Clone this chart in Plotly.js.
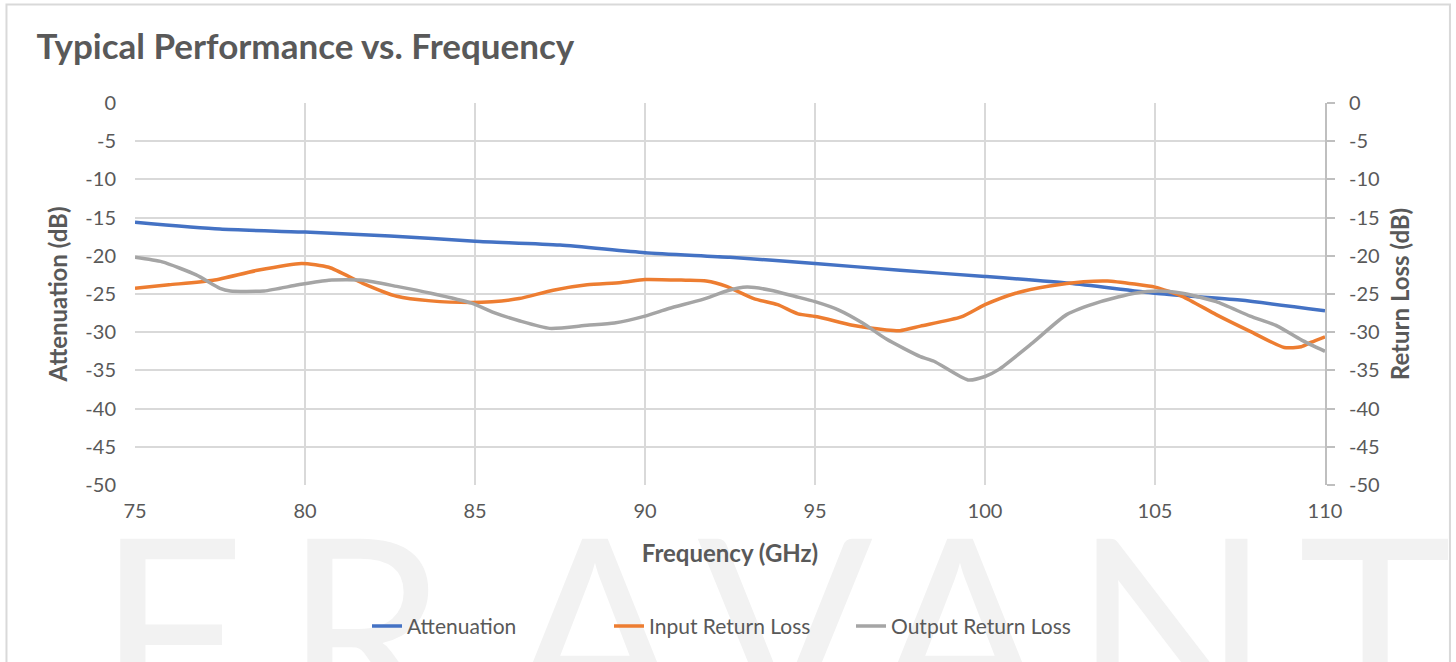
<!DOCTYPE html>
<html>
<head>
<meta charset="utf-8">
<script src="https://cdn.plot.ly/plotly-3.0.1.min.js"></script>
<style>html,body{margin:0;padding:0;background:#fff;}#chart{width:1456px;height:662px;}</style>
</head>
<body>
<div id="chart"></div>
<script>
// ---- data ----
const attFreq = [75, 77.5, 80, 82.5, 85, 87.5, 90, 92.5, 95, 97.5, 100, 102.5, 105, 107.5, 110];
const attVals = [-15.6, -16.5, -16.9, -17.4, -18.1, -18.6, -19.6, -20.2, -21.0, -21.9, -22.7, -23.6, -24.9, -25.8, -27.2];

const inFreq = [75, 76, 77.3, 78.6, 79.9, 80.7, 81.7, 82.7, 83.7, 84.9, 85.5, 86.3, 87.3, 88.3, 89.3, 90, 91.2, 91.8, 92.4, 93.2, 93.9, 94.5, 95.1, 96.1, 97.1, 97.5, 98.1, 99.3, 100, 100.9, 101.9, 102.9, 103.6, 104.4, 105, 105.8, 106.8, 107.8, 108.8, 109.3, 109.6, 110];
const inVals = [-24.25, -23.8, -23.2, -21.9, -21.0, -21.5, -23.6, -25.3, -25.9, -26.1, -26.0, -25.6, -24.5, -23.8, -23.5, -23.1, -23.2, -23.3, -24.0, -25.6, -26.4, -27.6, -28.0, -29.1, -29.7, -29.8, -29.2, -28.0, -26.4, -24.9, -23.95, -23.4, -23.3, -23.7, -24.1, -25.3, -27.7, -29.9, -32.0, -31.9, -31.3, -30.6];

const outFreq = [75, 75.8, 76.8, 77.5, 77.8, 78.8, 79.8, 80.7, 81.7, 82.7, 83.7, 84.9, 85.6, 86.3, 87.2, 88.3, 89.1, 90, 90.7, 91.7, 92.4, 93, 93.7, 94.4, 95, 95.7, 96.4, 97.1, 98.1, 98.5, 99.5, 100, 100.4, 101.4, 102.4, 103.4, 104.4, 105.1, 105.8, 106.8, 107.8, 108.6, 109.3, 110];
const outVals = [-20.2, -20.8, -22.5, -24.25, -24.6, -24.6, -23.8, -23.2, -23.2, -24.0, -24.9, -26.2, -27.5, -28.5, -29.5, -29.1, -28.8, -27.9, -26.9, -25.7, -24.6, -24.1, -24.5, -25.3, -26.0, -27.1, -28.8, -30.9, -33.2, -33.8, -36.25, -35.8, -34.9, -31.4, -27.7, -26.0, -24.9, -24.6, -24.9, -26.0, -27.9, -29.2, -31.0, -32.5];

const seriesNames = ["Attenuation", "Input Return Loss", "Output Return Loss"];
const xTicks = [75, 80, 85, 90, 95, 100, 105, 110];
const yTicks = [0, -5, -10, -15, -20, -25, -30, -35, -40, -45, -50];
const watermark = ["F", "R", "A", "V", "A", "N", "T"];

// ---- styling ----
const FONT = "Lato, 'Open Sans', sans-serif";
const TXT = "#595959";
const colors = ["#4472C4", "#ED7D31", "#A5A5A5"];

const traces = [
  {x: attFreq, y: attVals, name: seriesNames[0], type: "scatter", mode: "lines", yaxis: "y",
   line: {color: colors[0], width: 3.5, shape: "spline", smoothing: 0.6}},
  {x: inFreq, y: inVals, name: seriesNames[1], type: "scatter", mode: "lines", yaxis: "y2",
   line: {color: colors[1], width: 3.5, shape: "spline", smoothing: 0.6}},
  {x: outFreq, y: outVals, name: seriesNames[2], type: "scatter", mode: "lines", yaxis: "y2",
   line: {color: colors[2], width: 3.5, shape: "spline", smoothing: 0.6}}
];

// decorative background watermark, drawn as an image layer beneath everything
const wmCenters = [170, 365, 595, 785, 960, 1172, 1375];
let svg = '<svg xmlns="http://www.w3.org/2000/svg" width="1456" height="142" viewBox="0 520 1456 142">';
watermark.forEach((ch, i) => {
  svg += '<text x="' + wmCenters[i] + '" y="725" text-anchor="middle" font-family="Lato, sans-serif" font-size="260" fill="#f2f2f2">' + ch + '</text>';
});
svg += '</svg>';
const wmSrc = "data:image/svg+xml;charset=utf-8," + encodeURIComponent(svg);

const layout = {
  width: 1456, height: 662,
  margin: {l: 135, r: 131, t: 103, b: 177},
  paper_bgcolor: "#ffffff",
  plot_bgcolor: "#ffffff",
  font: {family: FONT, color: TXT, size: 20},
  title: {text: "<b>Typical Performance vs. Frequency</b>", x: 0.025, xanchor: "left",
          xref: "container", y: 0.93, yref: "container", yanchor: "middle",
          font: {family: FONT, size: 35, color: TXT}},
  xaxis: {
    range: [75, 110], tickvals: xTicks, ticktext: xTicks.map(String),
    showgrid: true, gridcolor: "#d9d9d9", gridwidth: 2,
    zeroline: false, showline: false, ticks: "", ticklabelstandoff: 12,
    tickfont: {size: 20, color: TXT},
    title: {text: "<b>Frequency (GHz)</b>", font: {size: 24, color: TXT}, standoff: 24}
  },
  yaxis: {
    range: [-50, 0], tickvals: yTicks, ticktext: yTicks.map(String),
    showgrid: true, gridcolor: "#d9d9d9", gridwidth: 2,
    zeroline: false, showline: false, ticks: "", ticklabelstandoff: 18,
    tickfont: {size: 20, color: TXT},
    title: {text: "<b>Attenuation (dB)</b>", font: {size: 24, color: TXT}, standoff: 10}
  },
  yaxis2: {
    range: [-50, 0], tickvals: yTicks, ticktext: yTicks.map(String),
    overlaying: "y", side: "right", showgrid: false, zeroline: false,
    showline: true, linecolor: "#bfbfbf", linewidth: 2,
    ticks: "outside", ticklen: 8, tickcolor: "#bfbfbf", tickwidth: 2, ticklabelstandoff: 10,
    tickfont: {size: 20, color: TXT},
    title: {text: "<b>Return Loss (dB)</b>", font: {size: 24, color: TXT}, standoff: 14}
  },
  legend: {orientation: "h", x: 0.5, xanchor: "center", y: -0.37, yanchor: "middle",
           font: {size: 21, color: TXT}, bgcolor: "rgba(0,0,0,0)",
           entrywidth: 197, entrywidthmode: "pixels"},
  showlegend: true,
  images: [{source: wmSrc, xref: "paper", yref: "paper",
            x: -135 / 1190, y: (485 - 520) / 382, sizex: 1456 / 1190, sizey: 142 / 382,
            xanchor: "left", yanchor: "top", sizing: "stretch", layer: "below"}],
  shapes: [{type: "rect", xref: "paper", yref: "paper", x0: -0.108, x1: 1.105, y0: -0.6, y1: 1.258,
            line: {color: "#d9d9d9", width: 2}, fillcolor: "rgba(0,0,0,0)", layer: "below"}]
};

Plotly.newPlot("chart", traces, layout, {displayModeBar: false, staticPlot: true});
</script>
</body>
</html>
